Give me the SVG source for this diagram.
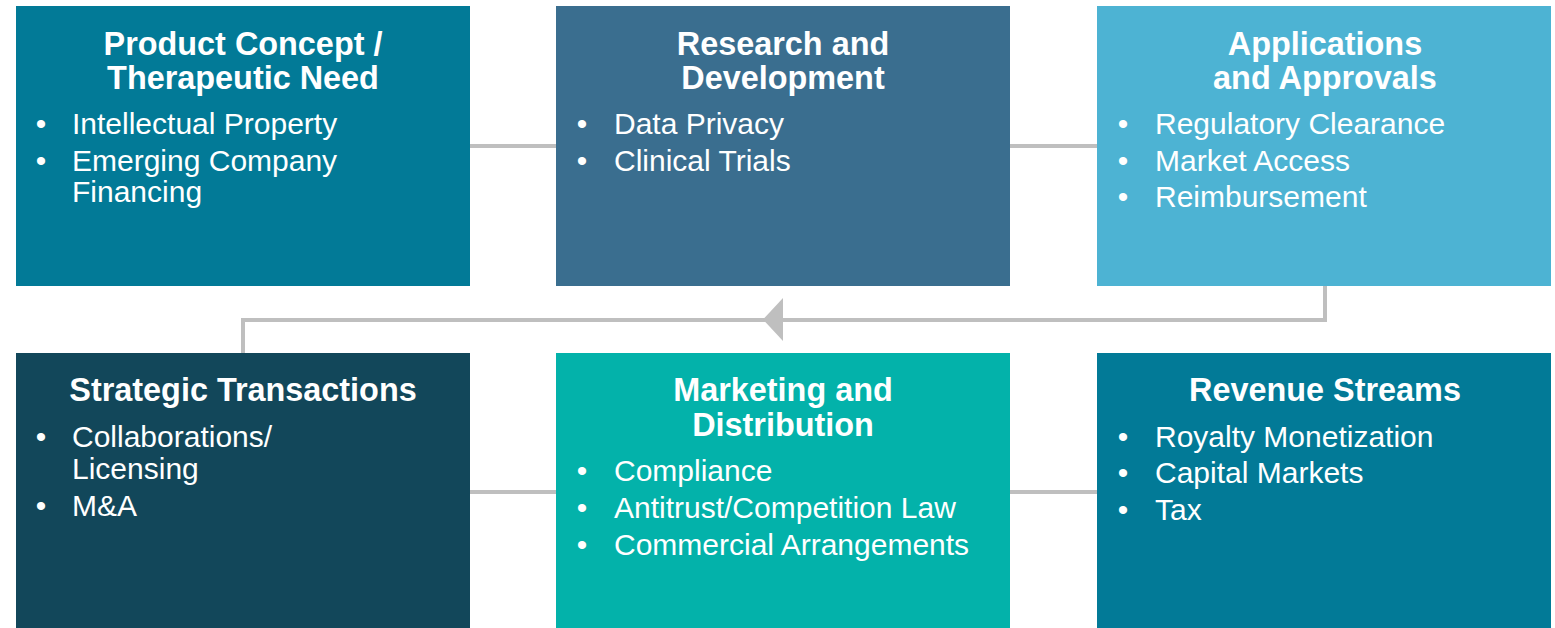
<svg xmlns="http://www.w3.org/2000/svg" width="1555" height="628" viewBox="0 0 1555 628">
<defs>
<style>
.t{font-family:"Liberation Sans",Arial,sans-serif;font-weight:bold;font-size:32.4px;fill:#fff;text-anchor:middle}
.b{font-family:"Liberation Sans",Arial,sans-serif;font-size:30px;fill:#fff}
.d{font-family:"Liberation Sans",Arial,sans-serif;font-size:30px;fill:#fff;text-anchor:middle}
.c{stroke:#BFBFBF;stroke-width:4;fill:none}
</style>
</defs>
<rect width="1555" height="628" fill="#fff"/>
<g id="connectors">
<line class="c" x1="470" y1="146" x2="556" y2="146"/>
<line class="c" x1="1010" y1="146" x2="1097" y2="146"/>
<line class="c" x1="470" y1="492" x2="556" y2="492"/>
<line class="c" x1="1010" y1="492" x2="1097" y2="492"/>
<polyline class="c" points="1325,286 1325,320 243,320 243,353"/>
<polygon points="763,319.5 783,298 783,341" fill="#BFBFBF"/>
</g>
<g id="n1">
<rect x="16" y="6" width="454" height="280" fill="#027A97"/>
<text class="t" x="243" y="54.8">Product Concept /</text>
<text class="t" x="243" y="88.8">Therapeutic Need</text>
<text class="d" x="41" y="133.8">•</text><text class="b" x="72" y="133.8">Intellectual Property</text>
<text class="d" x="41" y="170.5">•</text><text class="b" x="72" y="170.5">Emerging Company</text>
<text class="b" x="72" y="202.2">Financing</text>
</g>
<g id="n2">
<rect x="556" y="6" width="454" height="280" fill="#3A6E8F"/>
<text class="t" x="783" y="54.8">Research and</text>
<text class="t" x="783" y="88.8">Development</text>
<text class="d" x="582" y="133.8">•</text><text class="b" x="614" y="133.8">Data Privacy</text>
<text class="d" x="582" y="170.5">•</text><text class="b" x="614" y="170.5">Clinical Trials</text>
</g>
<g id="n3">
<rect x="1097" y="6" width="454" height="280" fill="#4DB3D3"/>
<text class="t" x="1325" y="54.8">Applications</text>
<text class="t" x="1325" y="88.8">and Approvals</text>
<text class="d" x="1123" y="133.8">•</text><text class="b" x="1155" y="133.8">Regulatory Clearance</text>
<text class="d" x="1123" y="170.5">•</text><text class="b" x="1155" y="170.5">Market Access</text>
<text class="d" x="1123" y="207.2">•</text><text class="b" x="1155" y="207.2">Reimbursement</text>
</g>
<g id="n4">
<rect x="16" y="353" width="454" height="275" fill="#12475A"/>
<text class="t" x="243" y="401.2">Strategic Transactions</text>
<text class="d" x="41" y="447.2">•</text><text class="b" x="72" y="447.2">Collaborations/</text>
<text class="b" x="72" y="478.8">Licensing</text>
<text class="d" x="41" y="515.5">•</text><text class="b" x="72" y="515.5">M&amp;A</text>
</g>
<g id="n5">
<rect x="556" y="353" width="454" height="275" fill="#03B2AA"/>
<text class="t" x="783" y="401.2">Marketing and</text>
<text class="t" x="783" y="435.5">Distribution</text>
<text class="d" x="582" y="481.2">•</text><text class="b" x="614" y="481.2">Compliance</text>
<text class="d" x="582" y="517.8">•</text><text class="b" x="614" y="517.8">Antitrust/Competition Law</text>
<text class="d" x="582" y="554.5">•</text><text class="b" x="614" y="554.5">Commercial Arrangements</text>
</g>
<g id="n6">
<rect x="1097" y="353" width="454" height="275" fill="#027A97"/>
<text class="t" x="1325" y="401.2">Revenue Streams</text>
<text class="d" x="1123" y="446.5">•</text><text class="b" x="1155" y="446.5">Royalty Monetization</text>
<text class="d" x="1123" y="483.2">•</text><text class="b" x="1155" y="483.2">Capital Markets</text>
<text class="d" x="1123" y="519.8">•</text><text class="b" x="1155" y="519.8">Tax</text>
</g>
</svg>
